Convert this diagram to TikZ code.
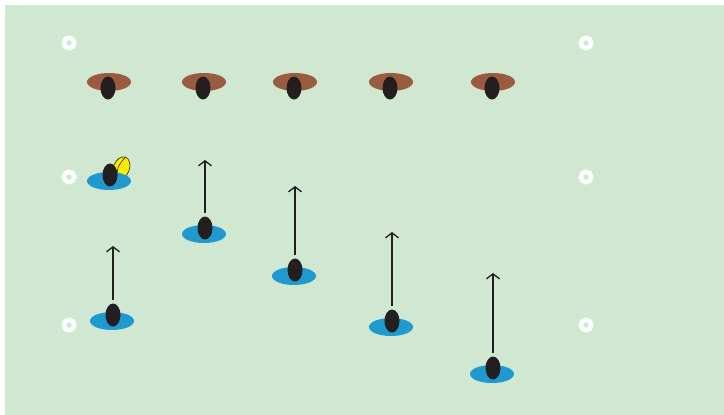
\documentclass[tikz,border=0pt]{standalone}
\usepackage{tikz}
\usetikzlibrary{arrows.meta,positioning,shapes.geometric}
\definecolor{pitch}{HTML}{D0E7D2}
\definecolor{defender}{HTML}{9A5B3F}
\definecolor{attacker}{HTML}{1E9AD0}
\definecolor{skin}{HTML}{231F20}
\definecolor{ball}{HTML}{FFED00}

\tikzset{
  cone/.style={circle,draw=white,line width=4.5pt,minimum size=10.5pt,inner sep=0pt},
  defbody/.style={ellipse,fill=defender,minimum width=44pt,minimum height=18pt,inner sep=0pt},
  attbody/.style={ellipse,fill=attacker,minimum width=44pt,minimum height=18pt,inner sep=0pt},
  head/.style={ellipse,fill=skin,minimum width=15pt,minimum height=23pt,inner sep=0pt},
  run/.style={draw=skin,line width=1.3pt,-{Straight Barb[length=5pt,width=13pt,line width=1.3pt]},shorten <=3pt}
}

\begin{document}
\begin{tikzpicture}[x=1pt,y=-1pt]
\useasboundingbox (0,0) rectangle (724,415);
\fill[pitch] (5,5) rectangle (724,415);

% cones
\foreach \n/\x/\y in {tl/69/43,tr/586/43,ml/69/177,mr/586/177,bl/69/325,br/586/325}
  \node[cone] (cone\n) at (\x,\y) {};

% defenders
\foreach \n/\x in {1/109,2/204,3/295,4/391,5/493}{
  \node[defbody] (d\n) at (\x,82) {};
  \node[head] (dh\n) at (\x-1,88) {};
}

% ball behind the first attacker
\node[ellipse,draw=skin,line width=0.6pt,fill=ball,rotate=-20,minimum width=16pt,minimum height=23pt,inner sep=0pt] (ball) at (121.5,168) {};
\draw[skin,line width=0.6pt] (ball.north) .. controls (117,167) .. (ball.south);

% attackers
\foreach \n/\x/\y in {1/109/181,2/204/234,3/294/276,4/391/327,5/492/374,6/112/321}{
  \node[attbody] (a\n) at (\x,\y) {};
  \node[head] (ah\n) at (\x+1,\y-6) {};
}

% runs
\coordinate (t6) at (113,246);
\coordinate (t2) at (205,160);
\coordinate (t3) at (295,186);
\coordinate (t4) at (392,232);
\coordinate (t5) at (493,273);
\foreach \n in {2,...,6}
  \draw[run] (ah\n.north) -- (t\n);
\end{tikzpicture}
\end{document}
